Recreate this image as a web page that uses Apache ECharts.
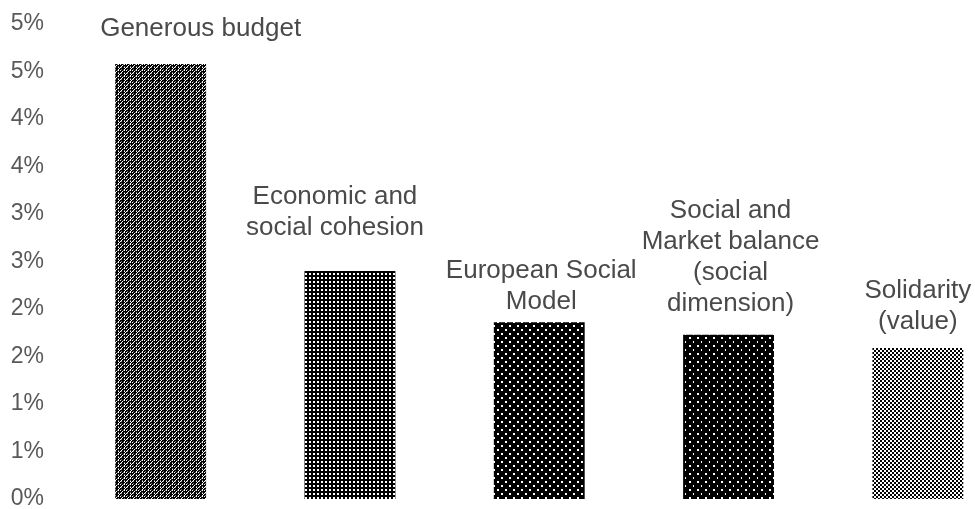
<!DOCTYPE html>
<html>
<head>
<meta charset="utf-8">
<script src="https://cdn.jsdelivr.net/npm/echarts@6/dist/echarts.min.js"></script>
<style>
  html, body { margin: 0; padding: 0; background: #ffffff; }
  #chart { width: 975px; height: 509px; }
</style>
</head>
<body>
<div id="chart"></div>
<script>
// Share of mentions per theme (percent)
const categories = [
  'Generous budget',
  'Economic and\nsocial cohesion',
  'European Social\nModel',
  'Social and\nMarket balance\n(social\ndimension)',
  'Solidarity\n(value)'
];
const values = [4.58, 2.40, 1.86, 1.73, 1.59];
const yTickLabels = ['0%', '1%', '1%', '2%', '2%', '3%', '3%', '4%', '4%', '5%', '5%'];

// Monochrome fill tiles: '1' black, 'g' grey, '0' white
const tiles = [
  ['1011g1', '0g1101', '111110', '1g1101', '011g01', '110111'],
  ['1111', '1001', '1001', '1111'],
  ['11111111', '10011111', '10011111', '11111111', '11111111', '11111001', '11111001', '11111111'],
  ['11111111', '10011111', '10011111', '11111111', '11111111', '11111011', '11111011', '11111111'],
  ['1100', '1100', '0011', '0011']
];

function makePattern(rows) {
  const h = rows.length, w = rows[0].length;
  const c = document.createElement('canvas');
  c.width = w; c.height = h;
  const ctx = c.getContext('2d');
  for (let y = 0; y < h; y++) {
    for (let x = 0; x < w; x++) {
      const ch = rows[y][x];
      ctx.fillStyle = ch === '1' ? '#000000' : (ch === 'g' ? '#808080' : '#ffffff');
      ctx.fillRect(x, y, 1, 1);
    }
  }
  return { image: c, repeat: 'repeat' };
}

// Per-bar label placement (horizontal shift, gap above bar)
const labelShift = [[40, 20], [-15, 28], [2, 5], [2, 15], [0, 11]];

const chart = echarts.init(document.getElementById('chart'), null, { renderer: 'canvas' });

chart.setOption({
  animation: false,
  backgroundColor: '#ffffff',
  grid: { left: 66, top: 24, bottom: 10, width: 946.5, outerBoundsMode: 'none' },
  xAxis: {
    type: 'category',
    data: categories,
    axisLine: { show: false },
    axisTick: { show: false },
    axisLabel: { show: false },
    splitLine: { show: false }
  },
  yAxis: {
    type: 'value',
    min: 0,
    max: 5,
    interval: 0.5,
    axisLine: { show: false },
    axisTick: { show: false },
    splitLine: { show: false },
    axisLabel: {
      margin: 22,
      fontFamily: 'Liberation Sans, Arial, sans-serif',
      fontSize: 23,
      color: '#595959',
      formatter: (v) => yTickLabels[Math.round(v / 0.5)]
    }
  },
  series: [{
    type: 'bar',
    barWidth: '48%',
    data: values.map((v, i) => ({
      value: v,
      itemStyle: { color: makePattern(tiles[i]) },
      label: { distance: labelShift[i][1], offset: [labelShift[i][0], 0] }
    })),
    label: {
      show: true,
      position: 'top',
      formatter: '{b}',
      fontFamily: 'Liberation Sans, Arial, sans-serif',
      fontSize: 26,
      lineHeight: 31,
      color: '#4a4a4a',
      align: 'center'
    }
  }]
});
</script>
</body>
</html>
